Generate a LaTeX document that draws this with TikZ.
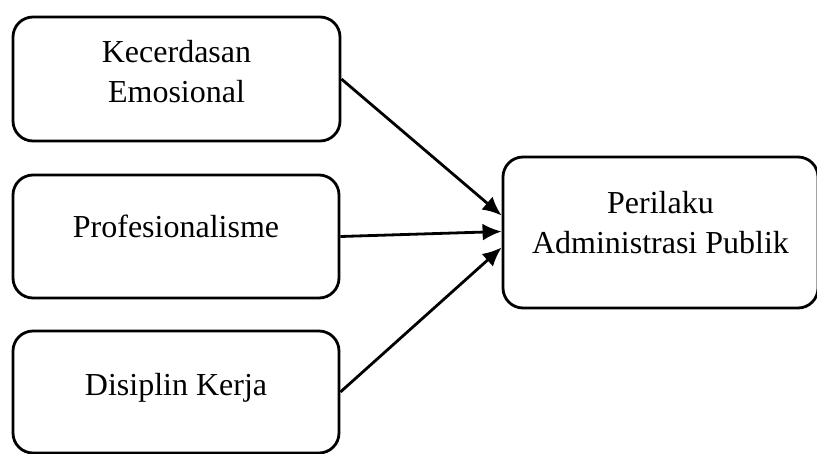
\documentclass[tikz,border=0pt]{standalone}
\usepackage{fontspec}
\setmainfont{Liberation Serif}
\usetikzlibrary{arrows.meta}

\begin{document}
\begin{tikzpicture}[x=1pt,y=1pt,
    box/.style={draw,line width=2.8pt,rounded corners=20pt,align=center,
      font=\fontsize{32}{40}\selectfont,inner sep=0pt,text depth=0pt},
    arr/.style={line width=2.8pt,-{Latex[length=19pt,width=17pt]}}]
  \useasboundingbox (0,0) rectangle (817,-453);
  \node (ke) [box,minimum width=327,minimum height=124,text height=46pt]
    at (176.5,-79) {Kecerdasan\\Emosional};
  \node (pr) [box,minimum width=326,minimum height=123,text height=1pt]
    at (176,-236.5) {Profesionalisme};
  \node (dk) [box,minimum width=326,minimum height=122,text height=6pt]
    at (176,-392) {Disiplin Kerja};
  \node (pap) [box,minimum width=315,minimum height=151,text height=41pt]
    at (660.5,-232.5) {Perilaku\\Administrasi Publik};

  \path (pap.west) +(0,17) coordinate (papa) {};
  \path (pap.west) +(0,1) coordinate (papb) {};
  \path (pap.west) +(0,-15) coordinate (papc) {};
  \draw[arr] (ke.east) -- (papa);
  \draw[arr] (pr.east) -- (papb);
  \draw[arr] (dk.east) -- (papc);
\end{tikzpicture}
\end{document}
